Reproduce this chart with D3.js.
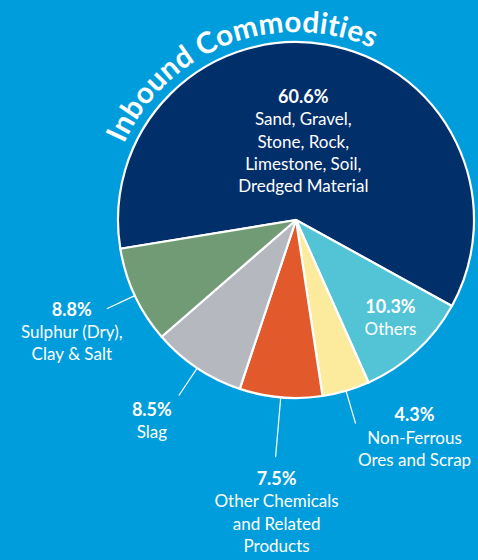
<!DOCTYPE html>
<html>
<head>
<meta charset="utf-8">
<script src="https://cdn.jsdelivr.net/npm/d3@7"></script>
<style>
  body { margin: 0; background: #009ddc; }
  text { font-family: Lato, "Open Sans", sans-serif; fill: #ffffff; }
</style>
</head>
<body>
<div id="pie"></div>
<script>
// Chart data
const title = "Inbound Commodities";
const percents = [60.6, 10.3, 4.3, 7.5, 8.5, 8.8];
const names = [
  ["Sand, Gravel,", "Stone, Rock,", "Limestone, Soil,", "Dredged Material"],
  ["Others"],
  ["Non-Ferrous", "Ores and Scrap"],
  ["Other Chemicals", "and Related", "Products"],
  ["Slag"],
  ["Sulphur (Dry),", "Clay & Salt"]
];
const colors = ["#012f6a", "#53c3d6", "#fdeb9d", "#e25a2b", "#b5b8be", "#709b75"];

// Label placement: radius along the slice middle, leader line or not, then text offset
const labelLayout = [
  {r: 78, leader: false, dx: -6, dy: -40},
  {r: 141, leader: false, dx: -1, dy: -11},
  {r: 212, leader: true, dx: 59, dy: -2},
  {r: 238, leader: true, dx: 1, dy: 28},
  {r: 211, leader: true, dx: -27, dy: 20},
  {r: 209, leader: true, dx: -35, dy: 7}
];

const width = 478;
const height = 560;
const cx = 296, cy = 220;
const radius = 178;
const lineGap = 22.3;

const svg = d3.select("#pie")
  .append("svg")
  .attr("width", width)
  .attr("height", height);

svg.append("rect")
  .attr("width", width)
  .attr("height", height)
  .attr("fill", "#009ddc");

const g = svg.append("g")
  .attr("transform", `translate(${cx},${cy})`);

const startDeg = -99.3;
const pie = d3.pie()
  .sort(null)
  .value(d => d)
  .startAngle(startDeg * Math.PI / 180)
  .endAngle((startDeg + 360) * Math.PI / 180);

const arc = d3.arc()
  .innerRadius(0)
  .outerRadius(radius);

const arcs = pie(percents);

g.selectAll(".slice")
  .data(arcs)
  .enter()
  .append("path")
  .attr("class", "slice")
  .attr("d", arc)
  .attr("fill", (d, i) => colors[i])
  .attr("stroke", "#ffffff")
  .attr("stroke-width", 2.2)
  .attr("stroke-linejoin", "round");

// polar helper, angle measured clockwise from 12 o'clock like d3.arc
const polar = (a, r) => [r * Math.sin(a), -r * Math.cos(a)];

arcs.forEach((d, i) => {
  const mid = (d.startAngle + d.endAngle) / 2;
  const lay = labelLayout[i];
  const [ax, ay] = polar(mid, lay.r);

  if (lay.leader) {
    const [sx, sy] = polar(mid, radius);
    g.append("line")
      .attr("x1", sx)
      .attr("y1", sy)
      .attr("x2", ax)
      .attr("y2", ay)
      .attr("stroke", "#ffffff")
      .attr("stroke-width", 1.2);
  }

  const label = g.append("text")
    .attr("text-anchor", "middle")
    .attr("x", ax + lay.dx)
    .attr("y", ay + lay.dy);

  label.append("tspan")
    .attr("x", ax + lay.dx)
    .attr("dy", 0)
    .attr("font-size", 18)
    .attr("font-weight", 700)
    .text(d3.format(".1f")(d.data) + "%");

  names[i].forEach(line => {
    label.append("tspan")
      .attr("x", ax + lay.dx)
      .attr("dy", lineGap)
      .attr("font-size", 17)
      .text(line);
  });
});

// Curved title above the pie
const titleR = 188;
const titleMid = -21 * Math.PI / 180;
const span = 80 * Math.PI / 180;
const [p0x, p0y] = polar(titleMid - span, titleR);
const [p1x, p1y] = polar(titleMid + span, titleR);

g.append("path")
  .attr("id", "titlePath")
  .attr("fill", "none")
  .attr("d", `M${p0x},${p0y} A${titleR},${titleR} 0 0 1 ${p1x},${p1y}`);

g.append("text")
  .attr("font-size", 29.5)
  .attr("font-weight", 700)
  .attr("letter-spacing", 0.3)
  .append("textPath")
  .attr("href", "#titlePath")
  .attr("startOffset", "50%")
  .attr("text-anchor", "middle")
  .text(title);
</script>
</body>
</html>
